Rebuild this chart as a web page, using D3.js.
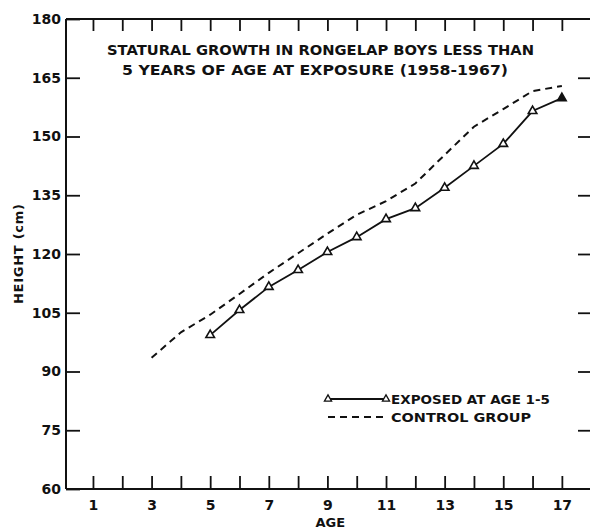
<!DOCTYPE html>
<html><head><meta charset="utf-8">
<script src="https://cdn.jsdelivr.net/npm/d3@7"></script>
<style>
html,body{margin:0;padding:0;background:#fff;}
svg{display:block;}
text{font-family:"DejaVu Sans",sans-serif;fill:#111;font-weight:bold;}
</style></head>
<body>
<script>
const titleLines = ["STATURAL GROWTH IN RONGELAP BOYS LESS THAN", "5 YEARS OF AGE AT EXPOSURE (1958-1967)"];
const xTicks = [1,2,3,4,5,6,7,8,9,10,11,12,13,14,15,16,17];
const xTickLabels = [1,3,5,7,9,11,13,15,17];
const yTicks = [60,75,90,105,120,135,150,165,180];
const exposedAges = [5,6,7,8,9,10,11,12,13,14,15,16,17];
const exposedHeights = [99.3,105.7,111.6,115.9,120.5,124.3,128.9,131.7,136.9,142.5,148.1,156.5,159.8];
const controlAges = [3,4,5,6,7,8,9,10,11,12,13,14,15,16,17];
const controlHeights = [93.5,100,104.5,109.8,115.2,120.2,125.2,130,133.5,138,145.3,152.5,157,161.6,162.9];
const legendLabels = ["EXPOSED AT AGE 1-5", "CONTROL GROUP"];
const xLabel = "AGE", yLabel = "HEIGHT (cm)";

const W = 590, H = 529;
const svg = d3.select("body").append("svg").attr("width", W).attr("height", H);
const x = d3.scaleLinear().domain([0.08, 17.96]).range([66, 590]);
const y = d3.scaleLinear().domain([60, 180]).range([489, 19]);
const ink = "#111";

// frame
const g = svg.append("g");
g.append("line").attr("x1", x.range()[0]).attr("x2", x.range()[1]).attr("y1", y(60)).attr("y2", y(60)).attr("stroke", ink).attr("stroke-width", 2);
g.append("line").attr("x1", x.range()[0]).attr("x2", x.range()[1]).attr("y1", y(180)).attr("y2", y(180)).attr("stroke", ink).attr("stroke-width", 2);
g.append("line").attr("x1", x.range()[0]).attr("x2", x.range()[0]).attr("y1", y(60)).attr("y2", y(180)).attr("stroke", ink).attr("stroke-width", 2);

// axes via d3
const axB = d3.axisBottom(x).tickValues(xTicks).tickSizeInner(-13).tickSizeOuter(0)
  .tickFormat(d => xTickLabels.includes(d) ? d : "").tickPadding(11);
const gb = svg.append("g").attr("transform", `translate(0,${y(60)})`).call(axB);
const axT = d3.axisTop(x).tickValues(xTicks).tickSizeInner(-12).tickSizeOuter(0).tickFormat("");
const gt = svg.append("g").attr("transform", `translate(0,${y(180)})`).call(axT);
const axL = d3.axisLeft(y).tickValues(yTicks).tickSizeInner(-14).tickSizeOuter(0).tickPadding(5);
const gl = svg.append("g").attr("transform", `translate(${x.range()[0]},0)`).call(axL);
const axR = d3.axisRight(y).tickValues(yTicks.filter(v => v > 60 && v < 180)).tickSizeInner(-12).tickSizeOuter(0).tickFormat("");
const gr = svg.append("g").attr("transform", `translate(590,0)`).call(axR);
[gb, gt, gl, gr].forEach(a => {
  a.select(".domain").remove();
  a.selectAll(".tick line").attr("stroke", ink).attr("stroke-width", 1.8);
  a.selectAll("text").attr("font-size", 14).attr("fill", ink)
    .style("font-family", "'DejaVu Sans',sans-serif").style("font-weight", "bold");
});

// axis titles
svg.append("text").attr("x", x(9.1)).attr("y", 527).attr("text-anchor", "middle").attr("font-size", 13).attr("fill", ink).text(xLabel);
svg.append("text").attr("transform", `translate(23,${y(120)}) rotate(-90)`).attr("text-anchor", "middle").attr("font-size", 13)
  .attr("fill", ink).attr("textLength", 100).attr("lengthAdjust", "spacing").text(yLabel);

// title
svg.append("text").attr("x", 107).attr("y", 55).attr("font-size", 14).attr("fill", ink).attr("textLength", 427).attr("lengthAdjust", "spacingAndGlyphs").text(titleLines[0]);
svg.append("text").attr("x", 122).attr("y", 75).attr("font-size", 14).attr("fill", ink).attr("textLength", 386).attr("lengthAdjust", "spacingAndGlyphs").text(titleLines[1]);

// lines
const line = d3.line().x(d => x(d[0])).y(d => y(d[1]));
const control = controlAges.map((a, i) => [a, controlHeights[i]]);
const exposed = exposedAges.map((a, i) => [a, exposedHeights[i]]);
svg.append("path").datum(control).attr("d", line).attr("fill", "none").attr("stroke", ink).attr("stroke-width", 2).attr("stroke-dasharray", "7,5");
svg.append("path").datum(exposed).attr("d", line).attr("fill", "none").attr("stroke", ink).attr("stroke-width", 1.8);
const tri = d3.symbol().type(d3.symbolTriangle).size(32);
svg.selectAll("path.pt").data(exposed).enter().append("path").attr("class", "pt")
  .attr("d", tri).attr("transform", d => `translate(${x(d[0])},${y(d[1])})`)
  .attr("fill", (d, i) => i === exposed.length - 1 ? ink : "#fff").attr("stroke", ink).attr("stroke-width", 1.6);

// legend
const lx0 = 328, lx1 = 386, ly1 = 399, ly2 = 417;
svg.append("line").attr("x1", lx0).attr("x2", lx1).attr("y1", ly1).attr("y2", ly1).attr("stroke", ink).attr("stroke-width", 1.8);
[lx0, lx1].forEach(px => svg.append("path").attr("d", d3.symbol().type(d3.symbolTriangle).size(22)).attr("transform", `translate(${px},${ly1})`).attr("fill", "#fff").attr("stroke", ink).attr("stroke-width", 1.3));
svg.append("line").attr("x1", lx0).attr("x2", lx1).attr("y1", ly2).attr("y2", ly2).attr("stroke", ink).attr("stroke-width", 2).attr("stroke-dasharray", "7,5");
svg.append("text").attr("x", 391).attr("y", 404).attr("font-size", 13).attr("fill", ink).attr("textLength", 159).attr("lengthAdjust", "spacingAndGlyphs").text(legendLabels[0]);
svg.append("text").attr("x", 391).attr("y", 422).attr("font-size", 13).attr("fill", ink).attr("textLength", 140).attr("lengthAdjust", "spacingAndGlyphs").text(legendLabels[1]);
</script>
</body></html>
